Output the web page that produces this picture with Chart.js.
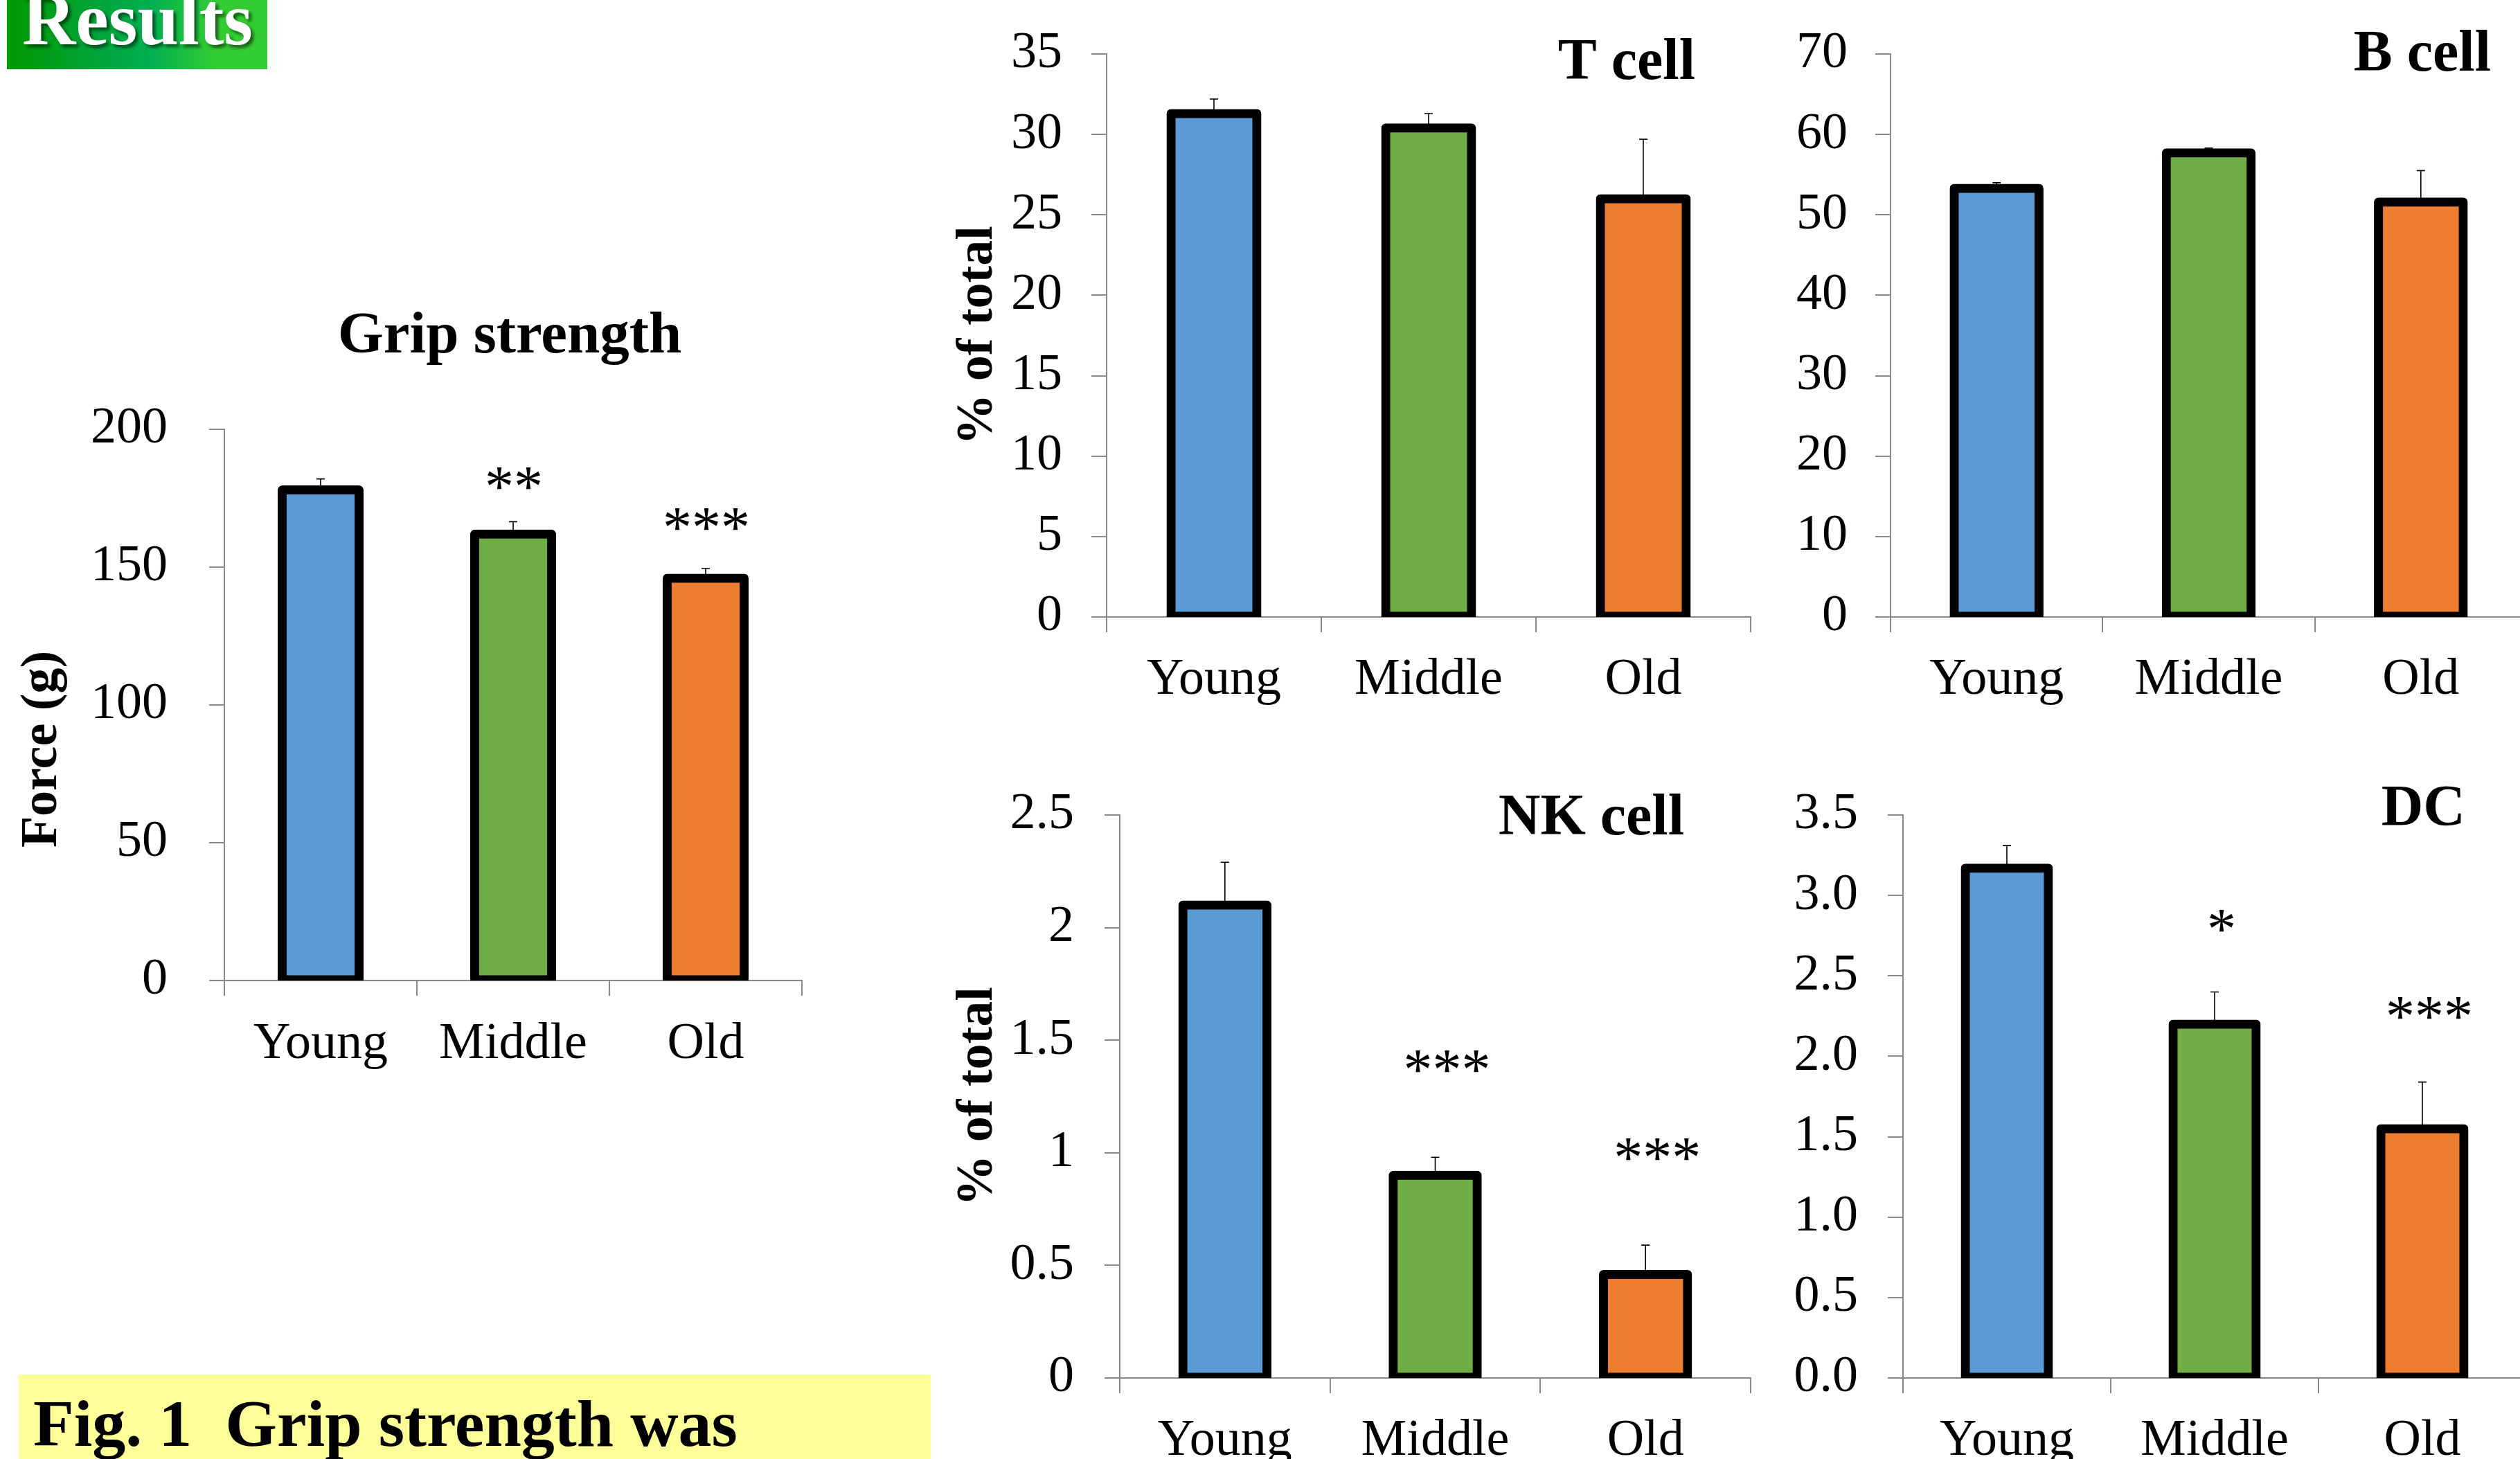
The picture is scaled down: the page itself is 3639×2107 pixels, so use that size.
<!DOCTYPE html>
<html><head><meta charset="utf-8">
<script src="https://cdn.jsdelivr.net/npm/chart.js@4.4.1/dist/chart.umd.min.js"></script>
<style>
html,body{margin:0;padding:0;background:#fff;}
body{width:3639px;height:2107px;overflow:hidden;position:relative;font-family:"Liberation Serif","Times New Roman",serif;}
canvas{position:absolute;}
#results{position:absolute;left:10px;top:0;width:376px;height:100px;overflow:hidden;
  background:linear-gradient(90deg,#009900 0%,#00A53A 35%,#00B050 55%,#33CC33 80%,#33CC33 100%);}
#results span{position:absolute;left:22px;top:-25px;font:bold 107px/1 "Liberation Serif";color:#fff;
  text-shadow:4px 4px 4px rgba(0,0,0,0.55);white-space:nowrap;}
#fig{position:absolute;left:27px;top:1985px;width:1317px;height:140px;background:#FFFF99;overflow:hidden;}
#fig span{position:absolute;left:21px;top:23px;font:bold 96px/1 "Liberation Serif";color:#000;white-space:pre;}
</style>
</head>
<body>
<div id="results"><span>Results</span></div>
<div id="fig"><span>Fig. 1  Grip strength was</span></div>
<script>
// ---------- data ----------
const categories = ['Young', 'Middle', 'Old'];
const barColors = ['#5B9BD5', '#70AD47', '#ED7D31'];

const gripMeans = [178, 162, 146];
const gripErrors = [4, 4.5, 3.5];
const gripStars = ['', '**', '***'];
const gripTicks = [0, 50, 100, 150, 200];
const gripTickLabels = ['0', '50', '100', '150', '200'];

const tMeans = [31.3, 30.4, 26.0];
const tErrors = [0.9, 0.9, 3.7];
const tStars = ['', '', ''];
const tTicks = [0, 5, 10, 15, 20, 25, 30, 35];
const tTickLabels = ['0', '5', '10', '15', '20', '25', '30', '35'];

const bMeans = [53.3, 57.7, 51.6];
const bErrors = [0.7, 0.6, 3.9];
const bStars = ['', '', ''];
const bTicks = [0, 10, 20, 30, 40, 50, 60, 70];
const bTickLabels = ['0', '10', '20', '30', '40', '50', '60', '70'];

const nkMeans = [2.1, 0.9, 0.46];
const nkErrors = [0.19, 0.08, 0.13];
const nkStars = ['', '***', '***'];
const nkTicks = [0, 0.5, 1, 1.5, 2, 2.5];
const nkTickLabels = ['0', '0.5', '1', '1.5', '2', '2.5'];

const dcMeans = [3.17, 2.2, 1.55];
const dcErrors = [0.14, 0.2, 0.29];
const dcStars = ['', '*', '***'];
const dcTicks = [0, 0.5, 1, 1.5, 2, 2.5, 3, 3.5];
const dcTickLabels = ['0.0', '0.5', '1.0', '1.5', '2.0', '2.5', '3.0', '3.5'];

// ---------- styling ----------
const FONT = '"Liberation Serif", "Times New Roman", serif';
const AXIS_GRAY = '#898989';
Chart.defaults.font.family = FONT;
Chart.defaults.color = '#000';

const annot = {
  id: 'annot',
  afterDatasetsDraw(chart, args, o) {
    const ctx = chart.ctx;
    const meta = chart.getDatasetMeta(0);
    const ys = chart.scales.y;
    const ca = chart.chartArea;
    const data = chart.data.datasets[0].data;
    ctx.save();
    ctx.strokeStyle = '#000';
    ctx.lineWidth = 1.6;
    o.errors.forEach((e, i) => {
      const bar = meta.data[i];
      const x = bar.x;
      const y0 = ys.getPixelForValue(data[i]);
      const y1 = ys.getPixelForValue(data[i] + e);
      ctx.beginPath();
      ctx.moveTo(x, y0); ctx.lineTo(x, y1);
      ctx.moveTo(x - 6, y1); ctx.lineTo(x + 6, y1);
      ctx.stroke();
      if (o.stars[i]) {
        ctx.fillStyle = '#000';
        ctx.font = '84px ' + FONT;
        ctx.textAlign = 'center';
        ctx.textBaseline = 'alphabetic';
        ctx.fillText(o.stars[i], x + o.starDx, y1 - o.starDy[i]);
      }
    });
    // panel title
    ctx.fillStyle = '#000';
    ctx.font = 'bold ' + o.title.size + 'px ' + FONT;
    ctx.textBaseline = 'alphabetic';
    ctx.textAlign = o.title.align;
    const tx = o.title.align === 'center' ? ca.left + o.title.dx : ca.right + o.title.dx;
    ctx.fillText(o.title.text, tx, ca.top + o.title.dy);
    // custom y title (grip)
    if (o.yTitle) {
      ctx.save();
      ctx.translate(ca.left + o.yTitle.dx, ca.top + o.yTitle.dy);
      ctx.rotate(-Math.PI / 2);
      ctx.font = 'bold 74px ' + FONT;
      ctx.textAlign = 'center';
      ctx.textBaseline = 'middle';
      ctx.fillText(o.yTitle.text, 0, 0);
      ctx.restore();
    }
    ctx.restore();
  }
};

function makeChart(s) {
  const [L, T, R, B] = s.area;
  const canvasLeft = L - s.yW;
  const canvasTop = T - s.padTop;
  const w = s.yW + (R - L) + s.padRight;
  const h = s.padTop + (B - T) + s.xH;
  const cv = document.createElement('canvas');
  cv.width = w; cv.height = h;
  cv.style.left = canvasLeft + 'px';
  cv.style.top = canvasTop + 'px';
  cv.style.width = w + 'px';
  cv.style.height = h + 'px';
  document.body.appendChild(cv);
  new Chart(cv, {
    type: 'bar',
    data: {
      labels: categories,
      datasets: [{
        data: s.means,
        backgroundColor: barColors,
        borderColor: '#000',
        borderWidth: 13,
        borderSkipped: false,
        borderRadius: 6.5,
        inflateAmount: 6.5,
        barPercentage: 0.4,
        categoryPercentage: 1.0
      }]
    },
    options: {
      responsive: false,
      animation: false,
      devicePixelRatio: 1,
      layout: { padding: { left: 0, top: s.padTop, right: s.padRight, bottom: 0 } },
      plugins: {
        legend: { display: false },
        tooltip: { enabled: false },
        annot: {
          errors: s.errors, stars: s.stars, starDx: s.starDx, starDy: s.starDy,
          title: s.title, yTitle: s.customYTitle || null
        }
      },
      scales: {
        x: {
          type: 'category',
          afterFit: sc => { sc.height = s.xH; },
          grid: { offset: true, drawOnChartArea: false, drawTicks: true, tickLength: 22, color: AXIS_GRAY, lineWidth: 2 },
          border: { display: true, color: AXIS_GRAY, width: 2 },
          ticks: { font: { size: 74 }, color: '#000', padding: s.xPad, maxRotation: 0, autoSkip: false }
        },
        y: {
          type: 'linear',
          min: 0,
          max: s.ticks[s.ticks.length - 1],
          afterFit: sc => { sc.width = s.yW; },
          afterBuildTicks: sc => { sc.ticks = s.ticks.map(v => ({ value: v })); },
          grid: { drawOnChartArea: false, drawTicks: true, tickLength: 22, color: AXIS_GRAY, lineWidth: 2 },
          border: { display: true, color: AXIS_GRAY, width: 2 },
          ticks: {
            font: { size: 74 }, color: '#000', padding: s.yPad,
            callback: (v, i) => s.tickLabels[i]
          },
          title: s.yTitle ? { display: true, text: s.yTitle, color: '#000', font: { size: 74, weight: 'bold' }, padding: 0 } : { display: false }
        }
      }
    },
    plugins: [annot]
  });
}

// Grip strength
makeChart({
  area: [324, 620, 1158, 1416], yW: 324, padTop: 220, padRight: 20, xH: 160,
  means: gripMeans, errors: gripErrors, stars: gripStars, starDx: 1, starDy: [0, 22, 31],
  ticks: gripTicks, tickLabels: gripTickLabels, yPad: 60, xPad: 26,
  title: { text: 'Grip strength', align: 'center', dx: 412, dy: -111, size: 85 },
  customYTitle: { text: 'Force (g)', dx: -262, dy: 462 }
});
// T cell
makeChart({
  area: [1598, 78, 2528, 891], yW: 230, padTop: 100, padRight: 40, xH: 160,
  means: tMeans, errors: tErrors, stars: tStars, starDx: 0, starDy: [0, 0, 0],
  ticks: tTicks, tickLabels: tTickLabels, yPad: 42, xPad: 25,
  title: { text: 'T cell', align: 'right', dx: -80, dy: 36, size: 84 },
  yTitle: '% of total'
});
// B cell
makeChart({
  area: [2730, 78, 3649, 891], yW: 170, padTop: 100, padRight: 10, xH: 160,
  means: bMeans, errors: bErrors, stars: bStars, starDx: 0, starDy: [0, 0, 0],
  ticks: bTicks, tickLabels: bTickLabels, yPad: 40, xPad: 25,
  title: { text: 'B cell', align: 'right', dx: -52, dy: 24, size: 84 }
});
// NK cell
makeChart({
  area: [1617, 1177, 2528, 1990], yW: 249, padTop: 100, padRight: 40, xH: 160,
  means: nkMeans, errors: nkErrors, stars: nkStars, starDx: 17, starDy: [0, 98, 98],
  ticks: nkTicks, tickLabels: nkTickLabels, yPad: 44, xPad: 25,
  title: { text: 'NK cell', align: 'right', dx: -96, dy: 28, size: 84 },
  yTitle: '% of total'
});
// DC
makeChart({
  area: [2748, 1177, 3648, 1990], yW: 190, padTop: 100, padRight: 10, xH: 160,
  means: dcMeans, errors: dcErrors, stars: dcStars, starDx: 10, starDy: [0, 63, 67],
  ticks: dcTicks, tickLabels: dcTickLabels, yPad: 43, xPad: 25,
  title: { text: 'DC', align: 'right', dx: -88, dy: 15, size: 84 }
});
</script>
</body></html>
